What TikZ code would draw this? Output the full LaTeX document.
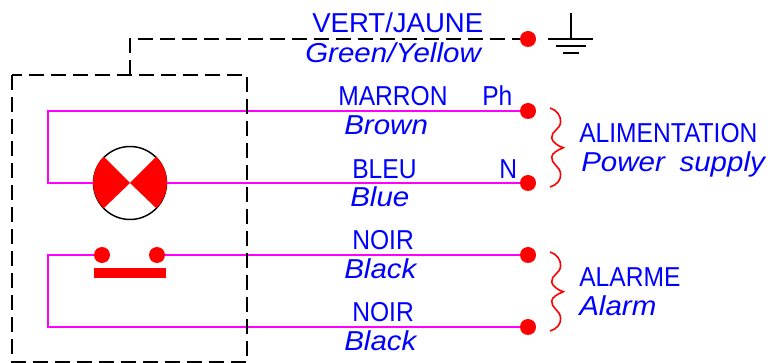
\documentclass[tikz,border=0pt]{standalone}
\usepackage{fontspec}
\setmainfont{Liberation Sans}
\newfontfamily\capsfont[FakeStretch=0.9]{Liberation Sans}
\newfontfamily\slantfont[FakeStretch=1.08]{Liberation Sans Italic}
\definecolor{wirecolor}{RGB}{255,0,255}
\definecolor{textcolor}{RGB}{0,0,255}
\tikzset{
    wire/.style={draw=wirecolor,line width=1.1pt},
    shield/.style={draw=black,line width=1.1pt,dash pattern=on 11.25pt off 5.25pt},
    earthline/.style={draw=black,line width=1.1pt},
    bracket/.style={draw=red,line width=1.2pt},
    terminal/.style={circle,fill=red,inner sep=0pt,minimum size=12pt},
    fr/.style={anchor=base west,inner sep=0pt,text=textcolor,font=\capsfont\fontsize{20.5}{22}\selectfont},
    en/.style={fr,font=\slantfont\fontsize{20.5}{22}\selectfont}
}
\begin{document}
\begin{tikzpicture}[x=0.75pt,y=-0.75pt]
    \useasboundingbox (0,0) rectangle (768,363);
    % Blocks
    \node [terminal] (earthT) at (528,39) {};
    \node [terminal] (phT) at (528,111) {};
    \node [terminal] (neutralT) at (528,183) {};
    \node [terminal] (alarmT) at (528,255) {};
    \node [terminal] (alarmB) at (528,327) {};
    \coordinate (phCorner) at (48,111);
    \coordinate (alarmCorner) at (48,327);
    \coordinate (boxTL) at (12,75);
    \coordinate (boxBR) at (247,362);
    \coordinate (stub) at (130,75);
    \node [circle,draw=black,line width=1.1pt,fill=white,inner sep=0pt,minimum size=54.75pt] (lamp) at (130,183) {};
    \node [terminal] (contactL) at (102,255) {};
    \node [terminal] (contactR) at (157,255) {};
    \node [rectangle,fill=red,inner sep=0pt,minimum width=54pt,minimum height=8pt] (contactBar) at (130,273) {};

    % Connections
    \draw [wire] (phT) -- (phCorner) |- (lamp);
    \draw [wire] (lamp) -- (neutralT);
    \draw [wire] (contactR) -- (alarmT);
    \draw [wire] (contactL) -| (alarmCorner) -- (alarmB);
    \draw [shield] (boxTL) rectangle (boxBR);
    \draw [shield] (stub) |- (earthT);

    % Lamp sectors
    \fill [red] (lamp.center) -- (lamp.45) arc (-45:45:36.5) -- cycle;
    \fill [red] (lamp.center) -- (lamp.135) arc (225:135:36.5) -- cycle;

    % Earth
    \coordinate (earthTop) at (571,13);
    \coordinate (earthMid) at (571,39);
    \draw [earthline] (earthTop) -- (earthMid);
    \draw [earthline] (548,39) -- (593,39);
    \draw [earthline] (556,46) -- (586,46);
    \draw [earthline] (563,53) -- (579,53);

    % Brackets
    \draw [bracket] (550,108) .. controls (557,110) and (561,116) .. (560.6,122) .. controls (560,130) and (551,131) .. (551.7,138) .. controls (552,142) and (558,146) .. (563.3,147.7) .. controls (558,150) and (552,153) .. (551.7,157) .. controls (551,164) and (560,166) .. (560.6,174) .. controls (561,180) and (557,185) .. (550,187);
    \draw [bracket] (550,252) .. controls (557,254) and (561,260) .. (560.6,266) .. controls (560,274) and (551,275) .. (551.7,282) .. controls (552,286) and (558,290) .. (563.3,291.7) .. controls (558,294) and (552,297) .. (551.7,301) .. controls (551,308) and (560,310) .. (560.6,318) .. controls (561,324) and (557,329) .. (550,331);

    % Labels
    \node [fr,xscale=1.12,transform shape] (vert) at (312,33) {VERT/JAUNE};
    \node [en] (green) at (305,63) {Green/Yellow};
    \node [fr] (marron) at (338,106) {MARRON};
    \node [fr] (ph) at (482,106) {Ph};
    \node [en] (brown) at (344,135) {Brown};
    \node [fr] (bleu) at (352,179) {BLEU};
    \node [fr] (n) at (499,179) {N};
    \node [en] (blue) at (350,207) {Blue};
    \node [fr] (noirA) at (352,250) {NOIR};
    \node [en] (blackA) at (344,279) {Black};
    \node [fr] (noirB) at (352,322) {NOIR};
    \node [en] (blackB) at (344,351) {Black};
    \node [fr] (alim) at (579,143) {ALIMENTATION};
    \node [en] (power) at (581,172) {Power\hspace{11pt}supply};
    \node [fr] (alarme) at (579,287) {ALARME};
    \node [en] (alarm) at (579,316) {Alarm};
\end{tikzpicture}
\end{document}
